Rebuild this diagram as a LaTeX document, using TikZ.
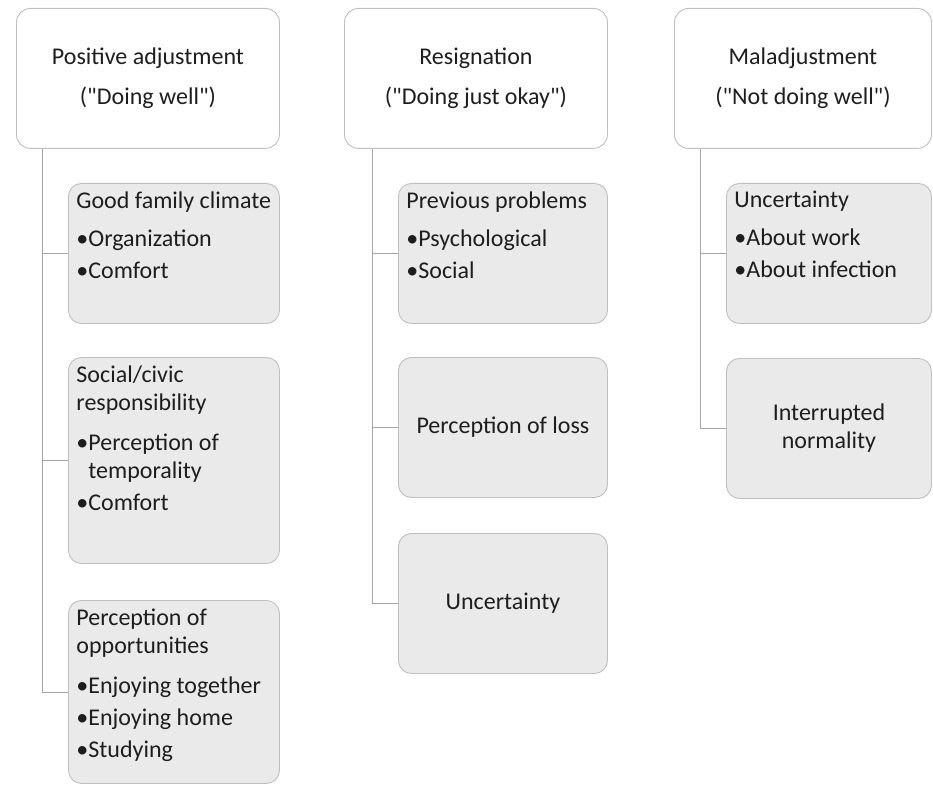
\documentclass[tikz,border=0pt]{standalone}
\usepackage{fontspec}
\setmainfont{Carlito}
\usetikzlibrary{positioning}

\definecolor{boxline}{HTML}{BFBFBF}
\definecolor{boxfill}{HTML}{EAEAEA}
\definecolor{linegray}{HTML}{A6A6A6}
\definecolor{ink}{HTML}{1E1E1E}

\tikzset{
    every node/.style = {font=\fontsize{24}{28}\selectfont, text=ink},
    head/.style  = {draw=boxline, fill=white, line width=0.9pt, rounded corners=14pt,
                    minimum height=140pt, inner sep=0pt, align=center, anchor=north west},
    cat/.style   = {draw=boxline, fill=boxfill, line width=0.9pt, rounded corners=13pt,
                    inner xsep=8pt, inner ysep=0pt, anchor=north west},
    catc/.style  = {cat, align=center, minimum height=140pt},
    trunk/.style = {draw=linegray, line width=0.9pt},
}

% box with its text at the top
\newcommand{\toplist}[3]{\begin{minipage}[t][#2][t]{#1}\vspace*{8pt}#3\end{minipage}}
\newcommand{\qt}[1]{\textquotedbl#1\textquotedbl}

\begin{document}
\begin{tikzpicture}[x=1pt, y=-1pt]
    \useasboundingbox (0,0) rectangle (933,786);

    % headers
    \node[head, minimum width=263pt] (pa) at (16,8) {Positive adjustment\\[12pt](\qt{Doing well})};
    \node[head, minimum width=263pt] (ri) at (344,8) {Resignation\\[12pt](\qt{Doing just okay})};
    \node[head, minimum width=257pt] (ma) at (674,8) {Maladjustment\\[12pt](\qt{Not doing well})};

    % positive adjustment
    \node[cat] (pa-1) at (68,183) {\toplist{195pt}{140pt}{Good family climate\\[10pt]
        \textbullet Organization\\[4pt]\textbullet Comfort}};
    \node[cat] (pa-2) at (68,357) {\toplist{195pt}{206pt}{Social/civic\\responsibility\\[12pt]
        \textbullet Perception of\\\phantom{\textbullet}temporality\\[4pt]\textbullet Comfort}};
    \node[cat] (pa-3) at (68,600) {\toplist{195pt}{183pt}{Perception of\\opportunities\\[12pt]
        \textbullet Enjoying together\\[4pt]\textbullet Enjoying home\\[4pt]\textbullet Studying}};

    % resignation
    \node[cat] (ri-1) at (398,183) {\toplist{193pt}{140pt}{Previous problems\\[10pt]
        \textbullet Psychological\\[4pt]\textbullet Social}};
    \node[catc, minimum width=209pt] (ri-2) at (398,357) {Perception of loss};
    \node[catc, minimum width=209pt] (ri-3) at (398,533) {Uncertainty};

    % maladjustment
    \node[cat] (ma-1) at (726,183) {\toplist{189pt}{140pt}{Uncertainty\\[10pt]
        \textbullet About work\\[4pt]\textbullet About infection}};
    \node[catc, minimum width=205pt] (ma-2) at (726,358) {Interrupted\\normality};

    % trunks
    \coordinate (pa-trunk) at ([xshift=26pt]pa.south west);
    \coordinate (ri-trunk) at ([xshift=28pt]ri.south west);
    \coordinate (ma-trunk) at ([xshift=26pt]ma.south west);
    \draw[trunk] (pa-trunk) |- (pa-1.west);
    \draw[trunk] (pa-trunk) |- (pa-2.west);
    \draw[trunk] (pa-trunk) |- (pa-3.west);
    \draw[trunk] (ri-trunk) |- (ri-1.west);
    \draw[trunk] (ri-trunk) |- (ri-2.west);
    \draw[trunk] (ri-trunk) |- (ri-3.west);
    \draw[trunk] (ma-trunk) |- (ma-1.west);
    \draw[trunk] (ma-trunk) |- (ma-2.west);
\end{tikzpicture}
\end{document}
